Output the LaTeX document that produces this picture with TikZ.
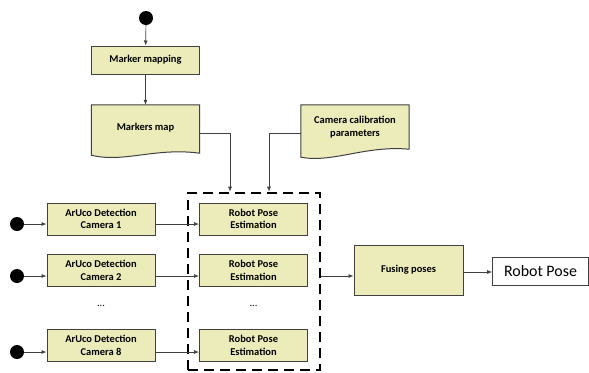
\documentclass[tikz,border=0pt]{standalone}
\usepackage{fontspec}
\setmainfont{Carlito}
\usetikzlibrary{calc,arrows.meta}
\definecolor{boxfill}{RGB}{236,236,187}
\definecolor{boxline}{RGB}{64,64,64}
\tikzset{
  proc/.style={draw=boxline, line width=1pt, fill=boxfill, minimum width=108bp, minimum height=32bp, inner sep=0pt, align=center, font=\fontsize{10.5}{12.5}\selectfont\bfseries},
  docnode/.style={draw=none, minimum width=108bp, minimum height=50bp, inner sep=0pt, align=center, font=\fontsize{10.5}{12.5}\selectfont\bfseries},
  docline/.style={draw=boxline, line width=1pt, fill=boxfill},
  start/.style={circle, fill=black, minimum size=14bp, inner sep=0pt},
  conn/.style={draw=black!75, line width=0.7pt, -{Latex[length=5bp,width=4bp]}},
  group/.style={draw=black, line width=2.6pt, dash pattern=on 10bp off 6bp},
}
\begin{document}
\begin{tikzpicture}[x=1bp,y=-1bp]
\useasboundingbox (0,0) rectangle (589,372);
% top
\node[start] (s0) at (146,18) {};
\node[proc, minimum height=28bp] (mm) at (145.5,60) {Marker mapping};
% documents
\node[docnode] (map) at (145.5,130) {};
\draw[docline] (map.north west) -- (map.north east) -- ($(map.south east)+(0,-2)$)
  .. controls ($(map.south)+(10,-8)$) and ($(map.south)+(-22,8)$) .. ($(map.south west)+(0,0)$) -- cycle;
\node[font=\fontsize{10.5}{12.5}\selectfont\bfseries] at (145.5,128) {Markers map};
\node[docnode] (cal) at (355,130) {};
\draw[docline] (cal.north west) -- (cal.north east) -- ($(cal.south east)+(0,-6)$)
  .. controls ($(cal.south)+(10,-10)$) and ($(cal.south)+(-22,8)$) .. ($(cal.south west)+(0,2)$) -- cycle;
\node[align=center, font=\fontsize{10.5}{12.5}\selectfont\bfseries] at (355,127) {Camera calibration\\parameters};
% dashed group
\node[group, minimum width=132bp, minimum height=177bp, inner sep=0pt] (grp) at (254,281.5) {};
% rows
\node[proc] (a1) at (101,219) {ArUco Detection\\Camera 1};
\node[proc] (a2) at (101,270.5) {ArUco Detection\\Camera 2};
\node[proc] (a3) at (101,345.5) {ArUco Detection\\Camera 8};
\node[proc] (r1) at (253.5,219) {Robot Pose\\Estimation};
\node[proc] (r2) at (253.5,270.5) {Robot Pose\\Estimation};
\node[proc] (r3) at (253.5,345.5) {Robot Pose\\Estimation};
\node[font=\fontsize{10.5}{12.5}\selectfont] (d1) at (101,306) {...};
\node[font=\fontsize{10.5}{12.5}\selectfont] (d2) at (253.5,306) {...};
\node[start] (s1) at (17,224) {};
\node[start] (s2) at (17,276) {};
\node[start] (s3) at (17,352) {};
% fusing
\node[proc, minimum width=109bp, minimum height=50bp] (fus) at (408.5,270) {Fusing poses};
\node[draw=boxline, line width=0.8pt, fill=white, minimum width=96bp, minimum height=28bp, inner sep=0pt, font=\fontsize{16}{18}\selectfont] (out) at (540.5,271) {Robot Pose};
% connectors
\draw[conn] (s0) -- (mm);
\draw[conn] (mm) -- (map);
\coordinate (c1) at (230,133);
\coordinate (c2) at (269,133);
\draw[conn] (map.east |- c1) -| (c1 |- grp.north);
\draw[conn] (cal.west |- c2) -| (c2 |- grp.north);
\draw[conn] (s1) -- (s1 -| a1.west);
\draw[conn] (s2) -- (s2 -| a2.west);
\draw[conn] (s3) -- (s3 -| a3.west);
\draw[conn] (a1.east |- s1) -- (r1.west |- s1);
\draw[conn] (a2.east |- s2) -- (r2.west |- s2);
\draw[conn] (a3.east |- s3) -- (r3.west |- s3);
\coordinate (c3) at (0,276);
\draw[conn] (grp.east |- c3) -- (fus.west |- c3);
\coordinate (c4) at (0,272);
\draw[conn] (fus.east |- c4) -- (out.west |- c4);
\end{tikzpicture}
\end{document}
